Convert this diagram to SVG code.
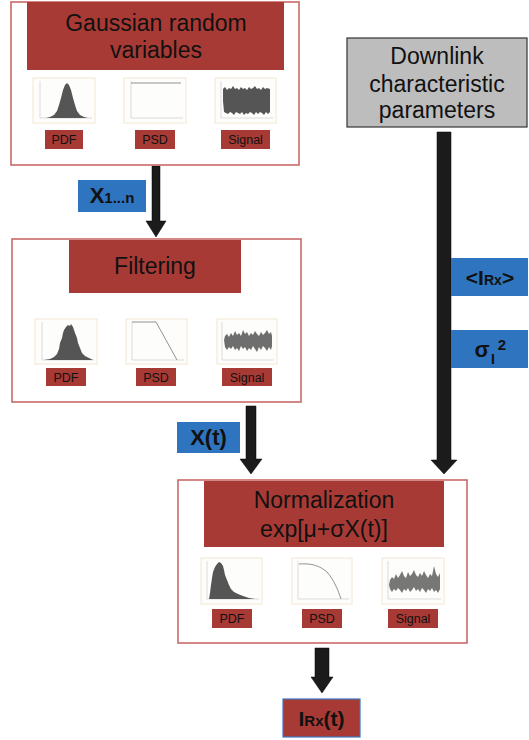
<svg xmlns="http://www.w3.org/2000/svg" width="529" height="740" viewBox="0 0 529 740">
<style>
.frame{fill:#fff;stroke:#c86a68;stroke-width:1.6}
.title{fill:#a83a35}
.ttl{font-family:"Liberation Sans",Arial,sans-serif;font-size:23px;fill:#111;text-anchor:middle}
.lbl{fill:#a83a35}
.lt{font-family:"Liberation Sans",Arial,sans-serif;font-size:12.5px;fill:#111;text-anchor:middle}
.thumb{fill:#fdfdfb;stroke:#f3e6d3;stroke-width:1}
.ax{fill:none;stroke:#bbb;stroke-width:0.5}
.tag{fill:#2f74bf}
.tt{font-family:"Liberation Sans",Arial,sans-serif;font-weight:bold;fill:#111;text-anchor:middle}
.arrow{fill:#1b1b1b;stroke:#000;stroke-width:0.5}
.gray{fill:#bdbdbd;stroke:#333;stroke-width:1.2}
.plot{fill:#555}
.line{fill:none;stroke:#777;stroke-width:0.8}
</style>

<g id="connectors">
  <path class="arrow" d="M152,166 H160 V221 H166 L156,237 L146,221 H152 Z"/>
  <path class="arrow" d="M246,406 H256 V459 H262 L251,474 L240,459 H246 Z"/>
  <path class="arrow" d="M437,132 H451 V460 H457 L444,474 L431,460 H437 Z"/>
  <path class="arrow" d="M315,648 H329 V677 H333 L322,693 L311,677 H315 Z"/>
</g>

<g id="gaussian">
  <rect class="frame" x="11" y="2" width="288" height="163"/>
  <rect class="title" x="27" y="2" width="257" height="68"/>
  <text class="ttl" x="156" y="31">Gaussian random</text>
  <text class="ttl" x="156" y="58">variables</text>
  <rect class="thumb" x="33" y="78" width="62" height="45"/>
  <path class="ax" d="M40,81 V118 H92"/>
  <path class="plot" d="M46,118 L50,117 L54,115 L57,111 L59,105 L61,98 L63,90 L65,85 L67,83 L69,85 L71,90 L73,98 L75,105 L77,111 L80,115 L84,117 L88,118 Z"/>
  <rect class="thumb" x="124" y="78" width="62" height="45"/>
  <path class="ax" d="M131,81 V118 H183"/>
  <path class="line" d="M131,83 H181"/>
  <rect class="thumb" x="215" y="78" width="61" height="45"/>
  <path class="ax" d="M221,81 V118 H273"/>
  <path class="plot" d="M223,101 L223,89 L225,87 L227,90 L229,88 L231,89 L233,86 L235,89 L237,88 L239,90 L241,87 L243,89 L245,88 L247,90 L249,87 L251,89 L253,88 L255,86 L257,89 L259,88 L261,90 L263,87 L265,89 L267,88 L270,89 L270,112 L268,114 L266,112 L264,115 L262,113 L260,112 L258,114 L256,112 L254,115 L252,113 L250,112 L248,114 L246,113 L244,115 L242,112 L240,114 L238,113 L236,112 L234,115 L232,113 L230,112 L228,114 L226,113 L224,112 Z"/>
  <rect class="lbl" x="45" y="130" width="38" height="19"/>
  <text class="lt" x="64" y="144">PDF</text>
  <rect class="lbl" x="135" y="130" width="40" height="19"/>
  <text class="lt" x="155" y="144">PSD</text>
  <rect class="lbl" x="221" y="130" width="49" height="19"/>
  <text class="lt" x="245.5" y="144">Signal</text>
</g>

<g id="x1n">
  <rect class="tag" x="78" y="180" width="68" height="32"/>
  <text class="tt" x="112" y="203"><tspan font-size="22">X</tspan><tspan font-size="15">1...n</tspan></text>
</g>

<g id="filtering">
  <rect class="frame" x="12" y="239" width="289" height="163"/>
  <rect class="title" x="69" y="240" width="172" height="53"/>
  <text class="ttl" x="155" y="274">Filtering</text>
  <rect class="thumb" x="35" y="319" width="62" height="45"/>
  <path class="ax" d="M42,322 V360 H94"/>
  <path class="plot" d="M44,360 L50,359 L54,357 L57,354 L59,349 L60,343 L62,338 L63,333 L64,330 L66,327 L68,325 L70,326 L71,324 L73,327 L74,330 L75,333 L77,338 L78,343 L80,348 L82,353 L85,356 L89,358 L93,360 Z"/>
  <rect class="thumb" x="126" y="319" width="61" height="45"/>
  <path class="ax" d="M132,322 V360 H184"/>
  <path class="line" d="M132,322 H156 L177,360"/>
  <rect class="thumb" x="217" y="319" width="60" height="45"/>
  <path class="ax" d="M222,322 V360 H274"/>
  <path class="plot" fill-opacity="0.85" d="M224,340 L225,336 L227,334 L229,337 L231,333 L233,336 L235,331 L237,335 L239,333 L241,336 L243,330 L245,334 L247,332 L249,336 L251,333 L253,335 L255,331 L257,334 L259,336 L261,332 L263,335 L265,333 L267,330 L269,334 L271,332 L272,336 L272,346 L271,350 L269,347 L267,351 L265,348 L263,346 L261,350 L259,347 L257,352 L255,349 L253,346 L251,350 L249,348 L247,351 L245,347 L243,349 L241,346 L239,351 L237,348 L235,350 L233,346 L231,349 L229,347 L227,350 L225,347 Z"/>
  <rect class="lbl" x="46" y="368" width="40" height="18"/>
  <text class="lt" x="66" y="382">PDF</text>
  <rect class="lbl" x="136" y="368" width="40" height="18"/>
  <text class="lt" x="156" y="382">PSD</text>
  <rect class="lbl" x="222" y="368" width="50" height="18"/>
  <text class="lt" x="247" y="382">Signal</text>
</g>

<g id="xt">
  <rect class="tag" x="177" y="422" width="63" height="31"/>
  <text class="tt" x="208.5" y="445" font-size="22">X(t)</text>
</g>

<g id="downlink">
  <rect class="gray" x="347" y="38" width="180" height="89"/>
  <text class="ttl" x="437" y="64">Downlink</text>
  <text class="ttl" x="437" y="92">characteristic</text>
  <text class="ttl" x="437" y="118">parameters</text>
</g>

<g id="irx-mean">
  <rect class="tag" x="451" y="258" width="77" height="38"/>
  <text class="tt" x="490" y="285"><tspan font-size="21">&lt;I</tspan><tspan font-size="14">Rx</tspan><tspan font-size="21">&gt;</tspan></text>
</g>

<g id="sigma">
  <rect class="tag" x="451" y="330" width="77" height="38"/>
  <text class="tt" x="482" y="357" font-size="22">σ</text>
  <text class="tt" x="493" y="364" font-size="14">I</text>
  <text class="tt" x="502" y="350" font-size="15">2</text>
</g>

<g id="normalization">
  <rect class="frame" x="178" y="480" width="289" height="163"/>
  <rect class="title" x="204" y="481" width="240" height="66"/>
  <text class="ttl" x="324" y="508">Normalization</text>
  <text class="ttl" x="324" y="537">exp[μ+σX(t)]</text>
  <rect class="thumb" x="201" y="558" width="61" height="46"/>
  <path class="ax" d="M207,561 V599 H259"/>
  <path class="plot" d="M209,599 L210,593 L211,585 L212,578 L213,572 L215,567 L217,564 L219,562 L221,563 L223,566 L224,570 L225,575 L227,580 L229,585 L231,589 L234,592 L238,594 L243,596 L249,598 L255,599 Z"/>
  <rect class="thumb" x="292" y="558" width="60" height="46"/>
  <path class="ax" d="M298,561 V599 H349"/>
  <path class="line" d="M299,564 C312,563 320,566 327,572 C334,580 338,590 341,599"/>
  <rect class="thumb" x="382" y="558" width="62" height="46"/>
  <path class="ax" d="M388,561 V599 H441"/>
  <path class="plot" fill-opacity="0.8" d="M389,585 L390,580 L392,577 L394,579 L396,574 L398,578 L400,575 L402,571 L404,576 L406,578 L408,572 L410,576 L412,574 L414,570 L416,575 L418,577 L420,573 L422,576 L424,571 L426,575 L428,578 L430,574 L432,576 L434,566 L436,574 L438,577 L440,573 L440,589 L438,593 L436,590 L434,592 L432,588 L430,591 L428,589 L426,593 L424,590 L422,588 L420,592 L418,589 L416,591 L414,587 L412,590 L410,592 L408,588 L406,591 L404,589 L402,593 L400,590 L398,588 L396,591 L394,589 L392,592 L390,589 Z"/>
  <rect class="lbl" x="212" y="609" width="40" height="19"/>
  <text class="lt" x="232" y="623">PDF</text>
  <rect class="lbl" x="302" y="609" width="40" height="19"/>
  <text class="lt" x="322" y="623">PSD</text>
  <rect class="lbl" x="388" y="609" width="50" height="19"/>
  <text class="lt" x="413" y="623">Signal</text>
</g>

<g id="irx-out">
  <rect x="283" y="699" width="77" height="38" fill="#a83a35" stroke="#3a78c4" stroke-width="1.2"/>
  <text class="tt" x="321.5" y="726"><tspan font-size="21">I</tspan><tspan font-size="15">Rx</tspan><tspan font-size="21">(t)</tspan></text>
</g>
</svg>
